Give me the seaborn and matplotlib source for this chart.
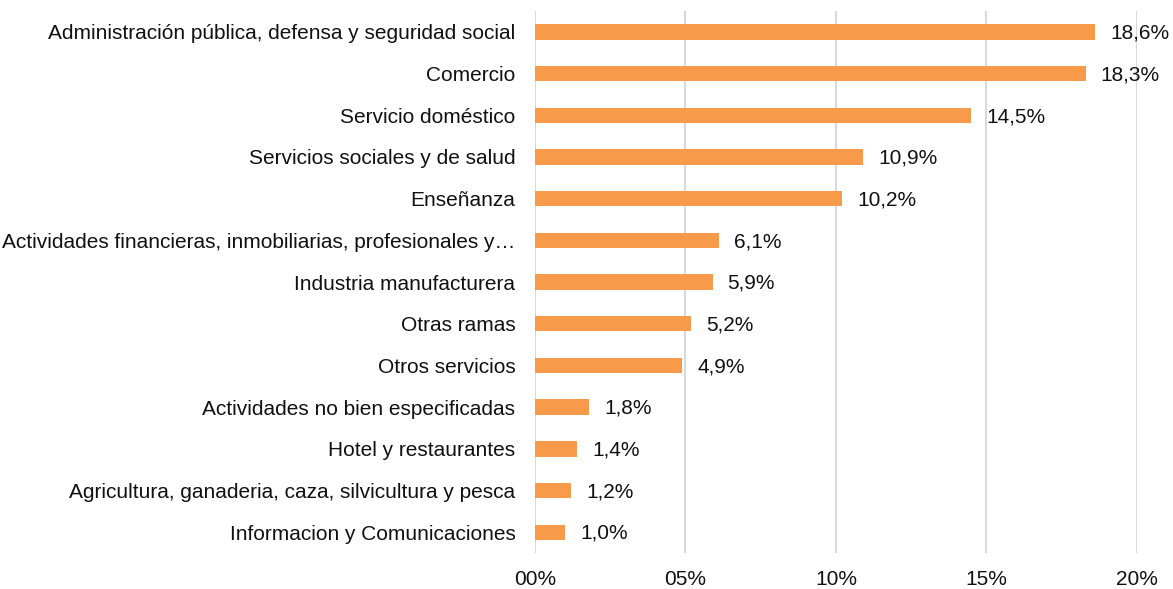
import pandas as pd
import matplotlib.pyplot as plt
import seaborn as sns

categories = [
    "Administración pública, defensa y seguridad social",
    "Comercio",
    "Servicio doméstico",
    "Servicios sociales y de salud",
    "Enseñanza",
    "Actividades financieras, inmobiliarias, profesionales y…",
    "Industria manufacturera",
    "Otras ramas",
    "Otros servicios",
    "Actividades no bien especificadas",
    "Hotel y restaurantes",
    "Agricultura, ganaderia, caza, silvicultura y pesca",
    "Informacion y Comunicaciones",
]
shares = [18.6, 18.3, 14.5, 10.9, 10.2, 6.1, 5.9, 5.2, 4.9, 1.8, 1.4, 1.2, 1.0]
tick_values = [0, 5, 10, 15, 20]
tick_labels = ["00%", "05%", "10%", "15%", "20%"]

df = pd.DataFrame({"rama": categories, "pct": shares})

sns.set_theme(style="white")
plt.rcParams["font.family"] = ["Liberation Sans", "DejaVu Sans"]

fig = plt.figure(figsize=(11.73, 5.89), dpi=100)
ax = fig.add_axes([0.456, 0.061, 0.9693 - 0.456, 0.9813 - 0.061])

sns.barplot(data=df, x="pct", y="rama", color="#F79A4A", saturation=1,
            width=0.37, linewidth=0, ax=ax, zorder=3)

for i, v in enumerate(shares):
    ax.text(v + 0.5, i + 0.03, f"{v:.1f}%".replace(".", ","), va="center",
            ha="left", fontsize=15, color="#111111")

ax.set_xlim(0, 20)
ax.set_xticks(tick_values)
ax.set_xticklabels(tick_labels)
ax.set_xlabel("")
ax.set_ylabel("")
ax.grid(axis="x", color="#D9D9D9", linewidth=1.5, zorder=0)
ax.set_axisbelow(True)
sns.despine(ax=ax, left=True, bottom=True, top=True, right=True)
ax.tick_params(axis="y", length=0, pad=14, labelsize=15, labelcolor="#111111")
ax.tick_params(axis="x", length=0, pad=12, labelsize=15, labelcolor="#111111")

fig.savefig("out.png", dpi=100)
